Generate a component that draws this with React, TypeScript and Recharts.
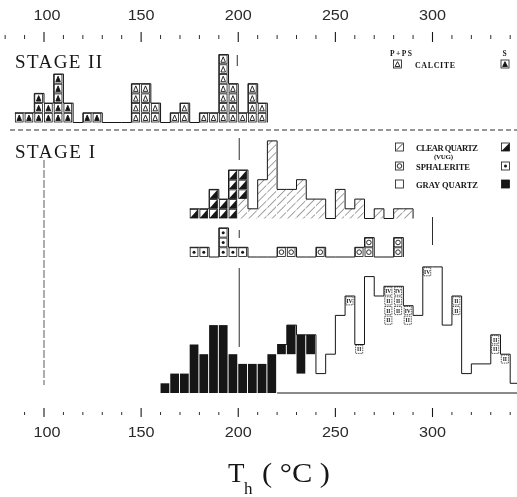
import React from 'react';
import { ComposedChart, Bar, Line, XAxis, YAxis, ReferenceLine } from 'recharts';

// 5 °C classes, lower edge of each class
const BIN_LO = [
  85, 90, 95, 100, 105, 110, 115, 120, 125, 130, 135, 140, 145, 150, 155, 160, 165, 170,
  175, 180, 185, 190, 195, 200, 205, 210, 215, 220, 225, 230, 235, 240, 245, 250, 255,
  260, 265, 270, 275, 280, 285, 290, 295, 300, 305, 310, 315, 320, 325, 330, 335, 340, 345,
];

// stage II calcite (S = filled triangles, P+PS = open triangles)
const CALCITE_S = [[85, 1], [90, 1], [95, 3], [100, 2], [105, 5], [110, 2], [120, 1], [125, 1]];
const CALCITE_P = [[145, 4], [150, 4], [155, 2], [165, 1], [170, 2], [180, 1], [185, 1], [190, 7], [195, 4], [200, 1], [205, 4], [210, 2]];

// stage I clear quartz (vug = half black cells, rest hatched)
const QUARTZ_VUG = [[175, 1], [180, 1], [185, 3], [190, 2], [195, 5], [200, 3]];
const QUARTZ_CLEAR = [[200, 2], [205, 1], [210, 4], [215, 8], [220, 3], [225, 3], [230, 4], [235, 2], [240, 2], [250, 3], [255, 1], [260, 2], [270, 1], [280, 1], [285, 1]];

// stage I sphalerite
const SPH_S = [[175, 1], [180, 1], [190, 3], [195, 1], [200, 1]];
const SPH_P = [[220, 1], [225, 1], [240, 1], [260, 1], [265, 2], [280, 2]];

// stage I gray quartz
const GRAY_S = [[160, 1], [165, 2], [170, 2], [175, 5], [180, 4], [185, 7], [190, 7], [195, 4], [200, 3], [205, 3], [210, 3], [215, 4], [220, 1], [225, 3], [230, 4], [235, 2]];
const GRAY_P = [[220, 4], [225, 4], [230, 2], [235, 4], [240, 2], [245, 4], [250, 8], [255, 10], [260, 5], [265, 12], [270, 10], [275, 11], [280, 11], [285, 9], [290, 8], [295, 13], [300, 13], [305, 7], [310, 10], [315, 2], [320, 3], [325, 3], [330, 6], [335, 4], [340, 1]];
const GRAY_TAGS: Record<number, string[]> = {
  255: ['IV'], 260: ['II'], 275: ['IV', 'II', 'II', 'II'], 280: ['IV', 'II', 'II'],
  285: ['IV', 'II'], 295: ['IV'], 310: ['II', 'II'], 330: ['II', 'II'], 335: ['II'],
};

// outline ranges (class edges) for each histogram
const OUTLINE = { s2: [85, 215], cq: [175, 290], sp: [175, 285], gq: [220, 345] };

const TOP_TICKS = [80, 90, 100, 110, 120, 130, 140, 150, 160, 170, 180, 190, 200, 210, 220, 230, 240, 250, 260, 270, 280, 290, 300, 310, 320, 330, 340];
const BOTTOM_TICKS = [90, 100, 110, 120, 130, 140, 150, 160, 170, 180, 190, 200, 210, 220, 230, 240, 250, 260, 270, 280, 290, 300, 310, 320, 330, 340];
const LABELLED = [100, 150, 200, 250, 300];

// layout
const W = 517;
const H = 497;
const INK = '#161616';
const PLOT_TOP = 44;
const PLOT_BOTTOM = 405;
const PX_PER_DEG = 1.9425;
const X_MIN = 100 - 44 / PX_PER_DEG;
const X_MAX = 100 + (W - 44) / PX_PER_DEG;
const BIN_PX = 5 * PX_PER_DEG;
const CELL = 9.7;
const BASE = { s2: 122.5, cq: 218.5, sp: 257, gq: 393 };
const yDomain = (b: number) => [-(PLOT_BOTTOM - b) / CELL, (b - PLOT_TOP) / CELL];
// guide marks are placed in page rows, expressed on the gray-quartz axis
const row = (px: number) => (BASE.gq - px) / CELL;

const count = (pairs: number[][], lo: number) => {
  const hit = pairs.find((p) => p[0] === lo);
  return hit ? hit[1] : 0;
};
const inRange = (r: number[], lo: number) => lo >= r[0] && lo <= r[1];

const rows = BIN_LO.map((lo) => {
  const calS = count(CALCITE_S, lo);
  const calP = count(CALCITE_P, lo);
  const vug = count(QUARTZ_VUG, lo);
  const clear = count(QUARTZ_CLEAR, lo);
  const sphS = count(SPH_S, lo);
  const sphP = count(SPH_P, lo);
  const grayS = count(GRAY_S, lo);
  const grayP = count(GRAY_P, lo);
  return {
    lo,
    mid: lo + 2.5,
    calS, calP, vug, clear, sphS, sphP, grayS, grayP,
    envS2: inRange(OUTLINE.s2, lo) ? calS + calP : null,
    envCQ: inRange(OUTLINE.cq, lo) ? vug + clear : null,
    envSP: inRange(OUTLINE.sp, lo) ? sphS + sphP : null,
    envGQ: inRange(OUTLINE.gq, lo) ? grayS + grayP : null,
  };
});

function Mark({ kind, x, y, w, h, tag }: any) {
  const cx = x + w / 2;
  const cy = y + h / 2;
  if (kind === 'tag') {
    return (
      <g>
        <rect x={x + 0.8} y={y + 0.8} width={w - 1.6} height={h - 1.6} fill="#fff" stroke={INK} strokeWidth={0.7} strokeDasharray="1.5 0.8" />
        <text x={cx} y={cy + 2} textAnchor="middle" fontSize={5.5} fontWeight="bold" fontFamily="Liberation Serif" fill={INK}>{tag}</text>
      </g>
    );
  }
  const box = (
    <rect x={x + 0.5} y={y + 0.5} width={w - 1} height={h - 1}
      fill={kind === 'black' ? INK : '#fff'} stroke={INK} strokeWidth={0.8} />
  );
  let inner: any = null;
  if (kind === 'triOpen' || kind === 'triFill') {
    inner = (
      <polygon points={`${cx},${y + 2.2} ${x + 2.1},${y + h - 2} ${x + w - 2.1},${y + h - 2}`}
        fill={kind === 'triFill' ? INK : 'none'} stroke={INK} strokeWidth={0.9} />
    );
  } else if (kind === 'vug') {
    inner = <polygon points={`${x + 0.5},${y + h - 0.5} ${x + w - 0.5},${y + h - 0.5} ${x + w - 0.5},${y + 0.5}`} fill={INK} />;
  } else if (kind === 'dot') {
    inner = <circle cx={cx} cy={cy} r={1.5} fill={INK} />;
  } else if (kind === 'ring') {
    inner = <circle cx={cx} cy={cy} r={2.3} fill="none" stroke={INK} strokeWidth={0.9} />;
  } else if (kind === 'slash') {
    inner = <line x1={x + 1.5} y1={y + h - 1.5} x2={x + w - 1.5} y2={y + 1.5} stroke={INK} strokeWidth={0.8} />;
  }
  return <g>{box}{inner}</g>;
}

const cellShape = (kind: string, key: string) => (p: any) => {
  const n = p.payload ? p.payload[key] : 0;
  if (!n || !p.height) return <g />;
  const ch = p.height / n;
  return (
    <g>
      {Array.from({ length: n }, (_, i) => (
        <Mark key={i} kind={kind} x={p.x} y={p.y + i * ch} w={p.width} h={ch} />
      ))}
    </g>
  );
};

const hatchShape = (p: any) => {
  if (!p.height) return <g />;
  return <rect x={p.x} y={p.y} width={p.width} height={p.height} fill="url(#hatch)" />;
};

const blackShape = (p: any) => {
  if (!p.height) return <g />;
  return <rect x={p.x} y={p.y} width={p.width} height={p.height} fill={INK} />;
};

const grayOpenShape = (p: any) => {
  const n = p.payload ? p.payload.grayP : 0;
  const tags = p.payload ? GRAY_TAGS[p.payload.lo] : undefined;
  if (!n || !p.height || !tags) return <g />;
  const ch = p.height / n;
  return (
    <g>
      {tags.map((t, i) => (
        <Mark key={i} kind="tag" tag={t} x={p.x} y={p.y + i * ch} w={p.width} h={ch} />
      ))}
    </g>
  );
};

// tick marks sit at fixed rows above / below the plot
function AxisTick({ x, payload, side }: any) {
  const v = payload.value;
  const major = v % 50 === 0;
  const top = side === 'top';
  const y1 = top ? (major ? 32 : 35) : (major ? 408 : 412);
  const y2 = top ? (major ? 42 : 39) : (major ? 417 : 415);
  return (
    <g>
      <line x1={x} x2={x} y1={y1} y2={y2} stroke={INK} strokeWidth={major ? 1.1 : 0.9} />
      {LABELLED.includes(v) && (
        <text x={x + (v === 100 ? 3 : 0)} y={top ? 19.5 : 437} textAnchor="middle"
          fontSize={15} fontFamily="Liberation Sans" fill="#2a2a2a" textLength={27} lengthAdjust="spacingAndGlyphs">
          {v}
        </text>
      )}
    </g>
  );
}

const serif = 'Liberation Serif';

export default function App() {
  const lineProps = { type: 'stepAfter' as const, stroke: INK, strokeWidth: 1, dot: false, connectNulls: false, isAnimationActive: false };
  const refProps = { xAxisId: 'bottom', yAxisId: 'gq', stroke: INK, strokeWidth: 0.9 };
  return (
    <div style={{ position: 'absolute', left: 0, top: 0, width: W, height: H, background: '#fff', filter: 'grayscale(1)' }}>
      <ComposedChart width={W} height={H} data={rows} margin={{ top: 0, right: 0, bottom: 0, left: 0 }}>
        <XAxis xAxisId="top" dataKey="lo" orientation="top" type="number" domain={[X_MIN, X_MAX]} allowDataOverflow
          ticks={TOP_TICKS} interval={0} height={PLOT_TOP} axisLine={false} tickLine={false} tickSize={0} tickMargin={0}
          tick={(p: any) => <AxisTick {...p} side="top" />} />
        <XAxis xAxisId="bottom" dataKey="lo" orientation="bottom" type="number" domain={[X_MIN, X_MAX]} allowDataOverflow
          ticks={BOTTOM_TICKS} interval={0} height={H - PLOT_BOTTOM} axisLine={false} tickLine={false} tickSize={0} tickMargin={0}
          tick={(p: any) => <AxisTick {...p} side="bottom" />} />
        <XAxis xAxisId="b2" dataKey="mid" type="number" domain={[X_MIN, X_MAX]} allowDataOverflow hide />
        <XAxis xAxisId="bq" dataKey="mid" type="number" domain={[X_MIN, X_MAX]} allowDataOverflow hide />
        <XAxis xAxisId="bs" dataKey="mid" type="number" domain={[X_MIN, X_MAX]} allowDataOverflow hide />
        <XAxis xAxisId="bg" dataKey="mid" type="number" domain={[X_MIN, X_MAX]} allowDataOverflow hide />

        <YAxis yAxisId="s2" type="number" domain={yDomain(BASE.s2)} allowDataOverflow hide />
        <YAxis yAxisId="cq" type="number" domain={yDomain(BASE.cq)} allowDataOverflow hide />
        <YAxis yAxisId="sp" type="number" domain={yDomain(BASE.sp)} allowDataOverflow hide />
        <YAxis yAxisId="gq" type="number" domain={yDomain(BASE.gq)} allowDataOverflow hide />

        {/* guide marks at 100, 200 and 300 °C, and the stage divider */}
        <ReferenceLine {...refProps} segment={[{ x: 82.5, y: row(130) }, { x: X_MAX, y: row(130) }]} strokeDasharray="5 3" />
        <ReferenceLine {...refProps} segment={[{ x: 100, y: row(160) }, { x: 100, y: row(385) }]} strokeDasharray="8 2" strokeWidth={0.7} />
        <ReferenceLine {...refProps} segment={[{ x: 199.5, y: row(55) }, { x: 199.5, y: row(66) }]} />
        <ReferenceLine {...refProps} segment={[{ x: 200.5, y: row(138) }, { x: 200.5, y: row(160) }]} />
        <ReferenceLine {...refProps} segment={[{ x: 200.5, y: row(230) }, { x: 200.5, y: row(238) }]} />
        <ReferenceLine {...refProps} segment={[{ x: 200.5, y: row(268) }, { x: 200.5, y: row(347) }]} />
        <ReferenceLine {...refProps} segment={[{ x: 300, y: row(217) }, { x: 300, y: row(245) }]} />
        <ReferenceLine xAxisId="bottom" yAxisId="gq" segment={[{ x: 220, y: 0 }, { x: X_MAX, y: 0 }]} stroke={INK} strokeWidth={1} />

        <Line {...lineProps} xAxisId="top" yAxisId="s2" dataKey="envS2" />
        <Line {...lineProps} xAxisId="top" yAxisId="cq" dataKey="envCQ" />
        <Line {...lineProps} xAxisId="bottom" yAxisId="sp" dataKey="envSP" />
        <Line {...lineProps} xAxisId="bottom" yAxisId="gq" dataKey="envGQ" />

        <Bar xAxisId="b2" yAxisId="s2" dataKey="calS" stackId="s2" barSize={BIN_PX} shape={cellShape('triFill', 'calS')} isAnimationActive={false} />
        <Bar xAxisId="b2" yAxisId="s2" dataKey="calP" stackId="s2" barSize={BIN_PX} shape={cellShape('triOpen', 'calP')} isAnimationActive={false} />

        <Bar xAxisId="bq" yAxisId="cq" dataKey="clear" stackId="cq" barSize={BIN_PX} shape={hatchShape} isAnimationActive={false} />
        <Bar xAxisId="bq" yAxisId="cq" dataKey="vug" stackId="cq" barSize={BIN_PX} shape={cellShape('vug', 'vug')} isAnimationActive={false} />

        <Bar xAxisId="bs" yAxisId="sp" dataKey="sphS" stackId="sp" barSize={BIN_PX} shape={cellShape('dot', 'sphS')} isAnimationActive={false} />
        <Bar xAxisId="bs" yAxisId="sp" dataKey="sphP" stackId="sp" barSize={BIN_PX} shape={cellShape('ring', 'sphP')} isAnimationActive={false} />

        <Bar xAxisId="bg" yAxisId="gq" dataKey="grayP" stackId="gq" barSize={BIN_PX} shape={grayOpenShape} isAnimationActive={false} />
        <Bar xAxisId="bg" yAxisId="gq" dataKey="grayS" stackId="gq" barSize={BIN_PX} shape={blackShape} isAnimationActive={false} />
      </ComposedChart>

      <svg width={W} height={H} style={{ position: 'absolute', left: 0, top: 0, pointerEvents: 'none' }}>
        <defs>
          <pattern id="hatch" patternUnits="userSpaceOnUse" width={5.5} height={5.5} patternTransform="rotate(45)">
            <line x1={0} y1={0} x2={0} y2={5.5} stroke={INK} strokeWidth={0.8} />
          </pattern>
        </defs>

        <text x={15} y={68} fontFamily={serif} fontSize={19} fill={INK} textLength={87} lengthAdjust="spacing">STAGE II</text>
        <text x={15} y={158} fontFamily={serif} fontSize={19} fill={INK} textLength={80} lengthAdjust="spacing">STAGE I</text>

        {/* calcite legend */}
        <text x={390} y={56} fontFamily={serif} fontSize={7.5} fontWeight="bold" fill={INK} textLength={22}>P+PS</text>
        <Mark kind="triOpen" x={393} y={59.5} w={9} h={9} />
        <text x={415} y={67.5} fontFamily={serif} fontSize={8} fontWeight="bold" fill={INK} textLength={40}>CALCITE</text>
        <text x={502.5} y={56} fontFamily={serif} fontSize={7.5} fontWeight="bold" fill={INK}>S</text>
        <Mark kind="triFill" x={500.5} y={59.5} w={9} h={9} />

        {/* stage I legend */}
        <Mark kind="slash" x={395} y={142.5} w={9} h={9} />
        <text x={416} y={150.5} fontFamily={serif} fontSize={8.5} fontWeight="bold" fill={INK} textLength={62}>CLEAR QUARTZ</text>
        <text x={434} y={158.5} fontFamily={serif} fontSize={7} fontWeight="bold" fill={INK} textLength={19}>(VUG)</text>
        <Mark kind="vug" x={501} y={142.5} w={9} h={9} />
        <Mark kind="ring" x={395} y={161.5} w={9} h={9} />
        <text x={416} y={169.5} fontFamily={serif} fontSize={8.5} fontWeight="bold" fill={INK} textLength={54}>SPHALERITE</text>
        <Mark kind="dot" x={501} y={161.5} w={9} h={9} />
        <Mark kind="open" x={395} y={179.5} w={9} h={9} />
        <text x={416} y={187.5} fontFamily={serif} fontSize={8.5} fontWeight="bold" fill={INK} textLength={62}>GRAY QUARTZ</text>
        <Mark kind="black" x={501} y={179.5} w={9} h={9} />

        {/* axis title */}
        <text x={228} y={482} fontFamily={serif} fontSize={27} fill={INK}>T</text>
        <text x={244} y={494} fontFamily={serif} fontSize={17} fill={INK}>h</text>
        <text x={262} y={482} fontFamily={serif} fontSize={27} fill={INK} textLength={68} lengthAdjust="spacingAndGlyphs">( °C )</text>
      </svg>
    </div>
  );
}
